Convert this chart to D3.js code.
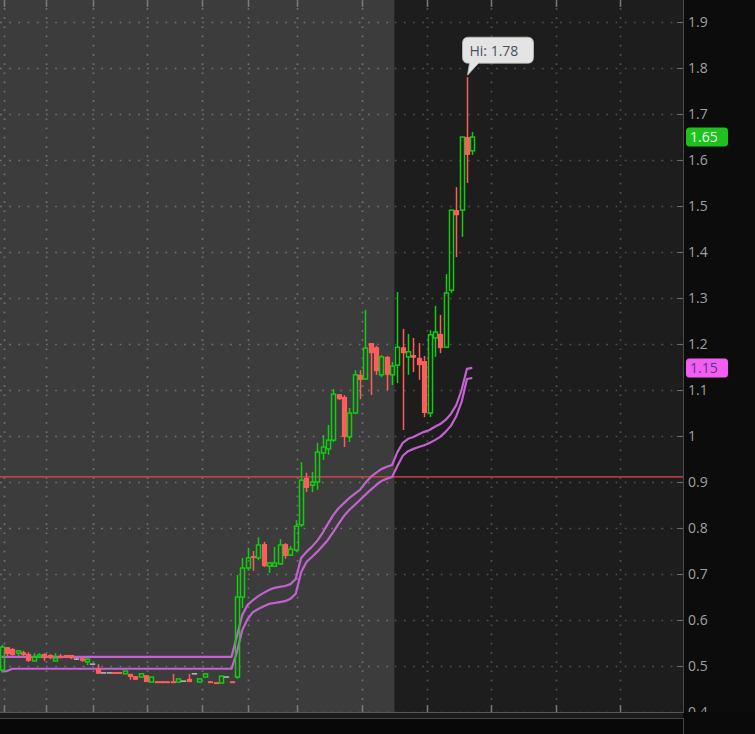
<!DOCTYPE html>
<html><head><meta charset="utf-8">
<script src="https://cdn.jsdelivr.net/npm/d3@7"></script>
<style>html,body{margin:0;padding:0;background:#0c0c0c;overflow:hidden}</style>
</head><body><svg id="c" width="755" height="734"></svg>
<script>
// ---- data ----
const opens = [0.491,0.541,0.537,0.528,0.530,0.526,0.511,0.520,0.526,0.524,
0.511,0.522,0.524,0.524,0.515,0.517,0.509,0.504,0.494,0.485,
0.485,0.487,0.487,0.483,0.483,0.478,0.476,0.480,0.465,0.467,
0.467,0.467,0.467,0.465,0.467,0.472,0.483,0.465,0.476,0.467,
0.465,0.463,0.476,0.467,0.476,0.650,0.713,0.739,0.735,0.765,
0.717,0.717,0.722,0.765,0.741,0.752,0.807,0.909,0.893,0.900,
0.963,0.972,0.991,1.091,1.085,0.998,1.050,1.133,1.124,1.202,
1.193,1.133,1.172,1.133,1.154,1.193,1.172,1.176,1.170,1.163,
1.050,1.213,1.222,1.193,1.317,1.491,1.491,1.650,1.620];
const highs = [0.546,0.541,0.539,0.535,0.533,0.530,0.528,0.528,0.528,0.526,
0.528,0.526,0.524,0.524,0.517,0.520,0.517,0.504,0.504,0.485,
0.485,0.487,0.487,0.489,0.483,0.478,0.483,0.480,0.476,0.467,
0.467,0.467,0.483,0.472,0.467,0.483,0.483,0.472,0.485,0.467,
0.465,0.478,0.476,0.467,0.698,0.735,0.757,0.750,0.780,0.770,
0.726,0.759,0.776,0.767,0.761,0.817,0.943,0.920,0.922,0.985,
1.002,1.024,1.102,1.091,1.089,1.061,1.143,1.143,1.274,1.202,
1.196,1.176,1.174,1.161,1.313,1.233,1.222,1.213,1.202,1.174,
1.230,1.283,1.263,1.352,1.491,1.541,1.650,1.780,1.661];
const lows = [0.487,0.522,0.522,0.522,0.520,0.509,0.511,0.517,0.511,0.515,
0.511,0.517,0.517,0.515,0.513,0.509,0.502,0.504,0.483,0.485,
0.485,0.483,0.483,0.483,0.470,0.470,0.476,0.465,0.465,0.463,
0.463,0.463,0.463,0.465,0.467,0.465,0.483,0.465,0.476,0.463,
0.461,0.463,0.476,0.463,0.472,0.626,0.709,0.707,0.730,0.715,
0.702,0.715,0.720,0.733,0.739,0.748,0.802,0.878,0.878,0.883,
0.948,0.959,0.987,1.078,0.976,0.987,1.048,1.080,1.122,1.089,
1.133,1.128,1.100,1.111,1.115,1.013,1.133,1.139,1.122,1.041,
1.041,1.172,1.180,1.191,1.311,1.389,1.433,1.550,1.611];
const closes = [0.541,0.526,0.524,0.533,0.524,0.511,0.520,0.524,0.517,0.517,
0.517,0.517,0.520,0.517,0.515,0.511,0.515,0.504,0.483,0.485,
0.485,0.483,0.483,0.489,0.476,0.470,0.483,0.465,0.476,0.463,
0.463,0.463,0.463,0.472,0.467,0.465,0.483,0.472,0.483,0.463,
0.461,0.478,0.476,0.463,0.650,0.713,0.735,0.735,0.763,0.717,
0.724,0.724,0.763,0.739,0.754,0.804,0.904,0.887,0.900,0.965,
0.976,0.991,1.091,1.080,0.998,1.050,1.133,1.122,1.191,1.180,
1.141,1.172,1.133,1.152,1.193,1.180,1.183,1.170,1.154,1.050,
1.220,1.226,1.191,1.311,1.491,1.480,1.650,1.611,1.650];
const upperBand = [0.520,0.520,0.520,0.520,0.520,0.520,0.520,0.520,0.520,0.520,
0.520,0.520,0.520,0.520,0.520,0.520,0.520,0.520,0.520,0.520,
0.520,0.520,0.520,0.520,0.520,0.520,0.520,0.520,0.520,0.520,
0.520,0.520,0.520,0.520,0.520,0.520,0.520,0.520,0.520,0.520,
0.520,0.520,0.520,0.520,0.565,0.611,0.633,0.643,0.652,0.659,
0.665,0.670,0.672,0.674,0.678,0.689,0.735,0.748,0.759,0.772,
0.789,0.809,0.828,0.843,0.854,0.865,0.874,0.883,0.898,0.911,
0.920,0.928,0.933,0.937,0.965,0.985,0.994,0.998,1.004,1.009,
1.013,1.020,1.026,1.035,1.048,1.067,1.100,1.146,1.148];
const lowerBand = [0.488,0.489,0.494,0.494,0.494,0.494,0.494,0.494,0.494,0.494,
0.494,0.494,0.494,0.494,0.494,0.494,0.494,0.494,0.494,0.494,
0.494,0.494,0.494,0.494,0.494,0.494,0.494,0.494,0.494,0.494,
0.494,0.494,0.494,0.494,0.494,0.494,0.494,0.494,0.494,0.494,
0.494,0.494,0.494,0.494,0.530,0.578,0.602,0.617,0.624,0.630,
0.635,0.637,0.639,0.641,0.646,0.657,0.704,0.726,0.737,0.748,
0.761,0.774,0.791,0.809,0.826,0.839,0.850,0.861,0.872,0.883,
0.893,0.902,0.907,0.911,0.935,0.957,0.967,0.972,0.976,0.980,
0.985,0.991,0.998,1.009,1.022,1.043,1.074,1.124,1.126];
const yTicks = [0.4,0.5,0.6,0.7,0.8,0.9,1.0,1.1,1.2,1.3,1.4,1.5,1.6,1.7,1.8,1.9];
const yTickLabels = ["0.4","0.5","0.6","0.7","0.8","0.9","1","1.1","1.2","1.3","1.4","1.5","1.6","1.7","1.8","1.9"];
const timeGridIdx = [0.5,8.3,17.1,27.2,37.5,46.1,55.2,67.4,79.5,91.5,103.6,115.6];
const refLevel = 0.911;
const sessionStartIdx = 73.5;

// ---- layout ----
const svg = d3.select("#c");
const plotR = 683, plotB = 712;
const FONT = "'Open Sans', 'DejaVu Sans', sans-serif";
const x = d3.scaleLinear().domain([0, opens.length - 1]).range([1.5, 472.3]);
const y = d3.scaleLinear().domain([0.4, 1.9]).range([plotB, 22]);
const xs = x(sessionStartIdx);

svg.append("rect").attr("width",755).attr("height",734).attr("fill","#0c0c0c");
svg.append("rect").attr("x",0).attr("y",0).attr("width",xs).attr("height",plotB).attr("fill","#3c3c3c");
svg.append("rect").attr("x",xs).attr("y",0).attr("width",plotR-xs).attr("height",plotB).attr("fill","#1d1d1d");

// grid (dotted)
const grid = svg.append("g").attr("stroke-width",1.7).attr("stroke-dasharray","1.7,7.5");
yTicks.forEach(v => {
  const gy = Math.round(y(v)) + 0.5;
  grid.append("line").attr("x1",0).attr("x2",xs).attr("y1",gy).attr("y2",gy).attr("stroke","#707070");
  grid.append("line").attr("x1",xs).attr("x2",plotR).attr("y1",gy).attr("y2",gy).attr("stroke","#505050");
});
timeGridIdx.forEach(t => {
  const gx = Math.round(x(t)) + 0.5;
  grid.append("line").attr("x1",gx).attr("x2",gx).attr("y1",8).attr("y2",plotB-8)
    .attr("stroke", gx < xs ? "#707070" : "#505050");
  svg.append("line").attr("x1",gx).attr("x2",gx).attr("y1",0).attr("y2",7).attr("stroke","#7a7a7a").attr("stroke-width",1.5);
  svg.append("line").attr("x1",gx).attr("x2",gx).attr("y1",plotB-7).attr("y2",plotB).attr("stroke","#7a7a7a").attr("stroke-width",1.5);
});

// reference line
svg.append("line").attr("x1",0).attr("x2",plotR).attr("y1",y(refLevel)).attr("y2",y(refLevel))
  .attr("stroke","#e04a4a").attr("stroke-width",1.2);

// bands
const idx = d3.range(opens.length);
const lineGen = arr => d3.line().x(i => x(i)).y(i => y(arr[i]))(idx);
[upperBand, lowerBand].forEach(arr => {
  svg.append("path").attr("d", lineGen(arr)).attr("fill","none")
    .attr("stroke","#c462d2").attr("stroke-width",2.2).attr("stroke-linejoin","round");
});

// candles
const UP = "#12cc12", DN = "#ff5c5c", FLAT = "#b4b4b4";
const cg = svg.append("g");
idx.forEach(i => {
  const o = opens[i], c = closes[i], h = highs[i], l = lows[i];
  const cx = Math.round(x(i)) + 0.5;
  if (c > o) {
    const top = y(c), bot = y(o);
    cg.append("line").attr("x1",cx).attr("x2",cx).attr("y1",y(h)).attr("y2",top).attr("stroke",UP).attr("stroke-width",1.5);
    cg.append("line").attr("x1",cx).attr("x2",cx).attr("y1",bot).attr("y2",y(l)).attr("stroke",UP).attr("stroke-width",1.5);
    cg.append("rect").attr("x",cx-2).attr("y",top).attr("width",4).attr("height",Math.max(bot-top,1.5))
      .attr("fill","none").attr("stroke",UP).attr("stroke-width",1.5);
  } else if (c < o) {
    const top = y(o), bot = y(c);
    cg.append("line").attr("x1",cx).attr("x2",cx).attr("y1",y(h)).attr("y2",y(l)).attr("stroke",DN).attr("stroke-width",1.5);
    cg.append("rect").attr("x",cx-2.6).attr("y",top).attr("width",5.2).attr("height",Math.max(bot-top,2))
      .attr("fill",DN);
  } else {
    cg.append("line").attr("x1",cx).attr("x2",cx).attr("y1",y(h)).attr("y2",y(l)).attr("stroke",FLAT).attr("stroke-width",1.2);
    cg.append("line").attr("x1",cx-2.7).attr("x2",cx+2.7).attr("y1",y(o)).attr("y2",y(o)).attr("stroke",FLAT).attr("stroke-width",1.6);
  }
});

// right axis area
svg.append("rect").attr("x",plotR).attr("y",0).attr("width",755-plotR).attr("height",734).attr("fill","#0c0c0c");
svg.append("line").attr("x1",plotR+0.5).attr("x2",plotR+0.5).attr("y1",0).attr("y2",plotB).attr("stroke","#4a4a4a");
const axisG = svg.append("g");
yTicks.forEach((v, k) => {
  axisG.append("line").attr("x1",plotR-6).attr("x2",plotR).attr("y1",Math.round(y(v))+0.5).attr("y2",Math.round(y(v))+0.5)
    .attr("stroke","#6a6a6a").attr("stroke-width",1);
  axisG.append("text").attr("x",688).attr("y",y(v)).attr("dy","0.36em")
    .attr("font-family",FONT).attr("font-size",14).attr("fill","#a0a0a0").text(yTickLabels[k]);
});

// bottom strip
svg.append("rect").attr("x",0).attr("y",plotB).attr("width",755).attr("height",734-plotB).attr("fill","#0a0a0a");
svg.append("rect").attr("x",0).attr("y",plotB+1).attr("width",plotR).attr("height",5).attr("fill","#1c1c1c");
svg.append("line").attr("x1",0).attr("x2",plotR+1).attr("y1",plotB+0.5).attr("y2",plotB+0.5).attr("stroke","#555");
svg.append("line").attr("x1",0).attr("x2",plotR+1).attr("y1",plotB+6.5).attr("y2",plotB+6.5).attr("stroke","#3e3e3e");
svg.append("rect").attr("x",-1).attr("y",718.5).attr("width",plotR+1.5).attr("height",20).attr("fill","#080808")
  .attr("stroke","#444");

// price tags on axis
function axisTag(v, txt, fill, color) {
  const cy = y(v);
  svg.append("rect").attr("x",686).attr("y",cy-9.5).attr("width",42).attr("height",19).attr("rx",3.5).attr("fill",fill);
  svg.append("text").attr("x",690).attr("y",cy).attr("dy","0.36em").attr("font-family",FONT)
    .attr("font-size",14).attr("fill",color).text(txt);
}
const lastClose = closes[closes.length-1];
const lastUpper = upperBand[upperBand.length-1];
axisTag(lastClose, d3.format(".2f")(lastClose), "#1ec21e", "#eaffea");
axisTag(lastUpper, d3.format(".2f")(lastUpper), "#f25ef2", "#5a3590");

// Hi bubble
const hiVal = d3.max(highs), hiIdx = highs.indexOf(hiVal);
const hx = Math.round(x(hiIdx)) + 0.5, hy = y(hiVal);
const bx = hx - 5, by = hy - 40, bwid = 71, bh = 26, r = 6;
const tipPath = `M${bx+r},${by} H${bx+bwid-r} Q${bx+bwid},${by} ${bx+bwid},${by+r} V${by+bh-r} Q${bx+bwid},${by+bh} ${bx+bwid-r},${by+bh}
 H${bx+16} L${hx},${hy-2} L${bx+7},${by+bh} H${bx+r} Q${bx},${by+bh} ${bx},${by+bh-r} V${by+r} Q${bx},${by} ${bx+r},${by} Z`;
svg.append("path").attr("d",tipPath).attr("fill","#e4e4e4").attr("stroke","#bdbdbd").attr("stroke-width",0.8);
svg.append("text").attr("x",bx+7).attr("y",by+18.5).attr("font-family",FONT).attr("font-size",14)
  .attr("fill","#4a5060").text("Hi: " + d3.format(".2f")(hiVal));
</script>
</body></html>
